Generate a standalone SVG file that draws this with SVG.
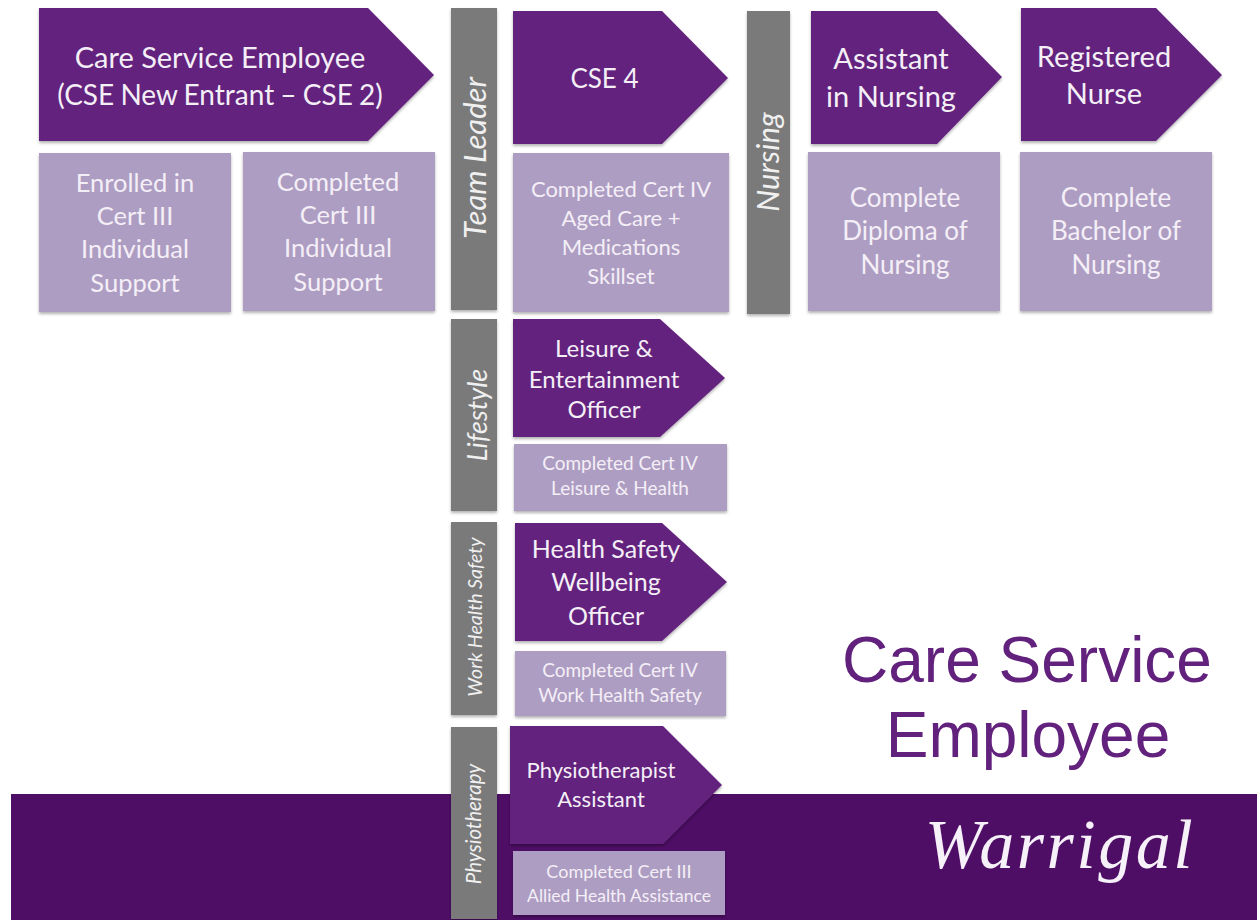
<svg xmlns="http://www.w3.org/2000/svg" width="1257" height="920" viewBox="0 0 1257 920">
<style>
text{font-family:"Lato","Noto Sans",sans-serif;fill:#f4eff7;text-anchor:middle}
.a{fill:#62217d;filter:url(#s)}
.b{fill:#ae9dc2;filter:url(#s)}
.g{fill:#7a7a7a;filter:url(#s)}
.v{font-style:italic;fill:#f0f0f0}
.t{font-family:"Liberation Sans",sans-serif;fill:#62217d;font-size:64px}
</style>
<defs><filter id="s" x="-5%" y="-5%" width="110%" height="110%"><feDropShadow dx="0" dy="2" stdDeviation="1.5" flood-color="#000" flood-opacity=".3"/></filter></defs>
<rect width="1257" height="920" fill="#fff"/>
<rect id="band" x="11" y="794" width="1246" height="126" fill="#4e0e66"/>
<g id="n1"><polygon class="a" points="39,8 368,8 434,75 368,141 39,141"/><text x="220" y="68" font-size="29">Care Service Employee</text><text x="220" y="105" font-size="28" word-spacing="-1">(CSE New Entrant – CSE 2)</text></g>
<g id="n2"><rect class="b" x="39" y="153" width="192" height="159"/><text x="135" y="192" font-size="25.5">Enrolled in</text><text x="135" y="225" font-size="25.5">Cert III</text><text x="135" y="258" font-size="25.5">Individual</text><text x="135" y="292" font-size="25.5">Support</text></g>
<g id="n3"><rect class="b" x="243" y="152" width="192" height="159"/><text x="338" y="191" font-size="25.5">Completed</text><text x="338" y="224" font-size="25.5">Cert III</text><text x="338" y="257" font-size="25.5">Individual</text><text x="338" y="291" font-size="25.5">Support</text></g>
<g id="v1"><rect class="g" x="451" y="8" width="46" height="302"/><text class="v" transform="translate(486,158) rotate(-90)" font-size="31">Team Leader</text></g>
<g id="n4"><polygon class="a" points="513,11 662,11 728,78 662,144 513,144"/><text x="604.500" y="88" font-size="26">CSE 4</text></g>
<g id="n5"><rect class="b" x="513" y="153" width="216" height="159"/><text x="621" y="197" font-size="22">Completed Cert IV</text><text x="621" y="226" font-size="22">Aged Care +</text><text x="621" y="255" font-size="22">Medications</text><text x="621" y="284" font-size="22">Skillset</text></g>
<g id="v2"><rect class="g" x="747" y="11" width="43" height="303"/><text class="v" transform="translate(779,162) rotate(-90)" font-size="31">Nursing</text></g>
<g id="n6"><polygon class="a" points="811,11 937,11 1002,77 937,144 811,144"/><text x="891" y="69" font-size="29">Assistant</text><text x="891" y="107" font-size="29">in Nursing</text></g>
<g id="n7"><rect class="b" x="808" y="152" width="192" height="159"/><text x="905" y="207" font-size="26">Complete</text><text x="905" y="240" font-size="26">Diploma of</text><text x="905" y="274" font-size="26">Nursing</text></g>
<g id="n8"><polygon class="a" points="1021,8 1156,8 1222,75 1156,141 1021,141"/><text x="1104" y="67" font-size="29">Registered</text><text x="1104" y="104" font-size="29">Nurse</text></g>
<g id="n9"><rect class="b" x="1020" y="152" width="192" height="159"/><text x="1116" y="207" font-size="26">Complete</text><text x="1116" y="240" font-size="26">Bachelor of</text><text x="1116" y="274" font-size="26">Nursing</text></g>
<g id="v3"><rect class="g" x="451" y="319" width="46" height="192"/><text class="v" transform="translate(487,415) rotate(-90)" font-size="27">Lifestyle</text></g>
<g id="n10"><polygon class="a" points="513,319 660,319 725,378 660,437 513,437"/><text x="604" y="357" font-size="24">Leisure &amp;</text><text x="604" y="388" font-size="24">Entertainment</text><text x="604" y="418" font-size="24">Officer</text></g>
<g id="n11"><rect class="b" x="514" y="444" width="213" height="67"/><text x="620" y="470" font-size="19">Completed Cert IV</text><text x="620" y="495" font-size="19">Leisure &amp; Health</text></g>
<g id="v4"><rect class="g" x="451" y="522" width="46" height="193"/><text class="v" transform="translate(482,617) rotate(-90)" font-size="19.600">Work Health Safety</text></g>
<g id="n12"><polygon class="a" points="515,523 662,523 727,582 662,641 515,641"/><text x="606" y="558" font-size="25">Health Safety</text><text x="606" y="591" font-size="25">Wellbeing</text><text x="606" y="625" font-size="25">Officer</text></g>
<g id="n13"><rect class="b" x="515" y="651" width="211" height="65"/><text x="620" y="677" font-size="19">Completed Cert IV</text><text x="620" y="702" font-size="19">Work Health Safety</text></g>
<g id="v5"><rect class="g" x="451" y="727" width="46" height="192"/><text class="v" transform="translate(481,824) rotate(-90)" font-size="20.500">Physiotherapy</text></g>
<g id="n14"><polygon class="a" points="510,726 663,726 722,785 663,844 510,844"/><text x="601" y="778" font-size="22">Physiotherapist</text><text x="601" y="807" font-size="22">Assistant</text></g>
<g id="n15"><rect class="b" x="513" y="851" width="212" height="64"/><text x="619" y="878" font-size="18">Completed Cert III</text><text x="619" y="902" font-size="17.500">Allied Health Assistance</text></g>
<g id="title"><text class="t" x="1027" y="682">Care Service</text><text class="t" x="1028" y="757">Employee</text></g>
<text id="logo" x="1060" y="868" font-size="70" font-style="italic" letter-spacing="2.500" style="font-family:'Liberation Serif',serif;fill:#f6f0f8">Warrigal</text>
</svg>
